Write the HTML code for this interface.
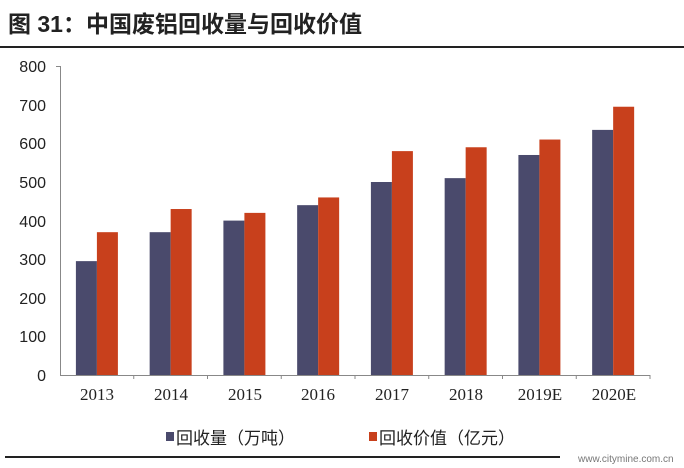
<!DOCTYPE html>
<html><head><meta charset="utf-8"><style>
body{margin:0;background:#fff;width:684px;height:468px;overflow:hidden;font-family:"Liberation Sans","Noto Sans CJK SC",sans-serif;}
</style></head><body>
<svg width="684" height="468" xmlns="http://www.w3.org/2000/svg" style="position:absolute;left:0;top:0">
<text x="8" y="32" font-size="23" font-weight="bold" fill="#222" font-family="Liberation Sans,Noto Sans CJK SC,sans-serif">图 31：中国废铝回收量与回收价值</text>
<line x1="0" y1="47" x2="684" y2="47" stroke="#222" stroke-width="2"/>
<g font-size="16" fill="#222" text-anchor="end" font-family="Liberation Sans,sans-serif">
<text x="46" y="72">800</text><text x="46" y="111">700</text><text x="46" y="149">600</text><text x="46" y="188">500</text><text x="46" y="227">400</text><text x="46" y="265">300</text><text x="46" y="304">200</text><text x="46" y="342">100</text><text x="46" y="381">0</text>
</g>
<g stroke="#888" stroke-width="1">
<line x1="60.5" y1="66" x2="60.5" y2="375"/>
<line x1="60" y1="375.5" x2="650" y2="375.5"/>
<line x1="56" y1="66.5" x2="60" y2="66.5"/>
</g>
<g id="bars"></g>
<g font-size="17" fill="#222" text-anchor="middle" font-family="Liberation Serif,serif">
<text x="97" y="400">2013</text><text x="171" y="400">2014</text><text x="245" y="400">2015</text><text x="318" y="400">2016</text><text x="392" y="400">2017</text><text x="466" y="400">2018</text><text x="540" y="400">2019E</text><text x="614" y="400">2020E</text>
</g>
<rect x="166" y="432" width="8" height="9" fill="#4a4a6c"/>
<text x="176" y="444" font-size="17" fill="#222">回收量（万吨）</text>
<rect x="369" y="432" width="8" height="9" fill="#c8401c"/>
<text x="379" y="444" font-size="17" fill="#222">回收价值（亿元）</text>
<line x1="5" y1="457" x2="560" y2="457" stroke="#222" stroke-width="2"/>
<text x="578" y="462" font-size="10" fill="#777">www.citymine.com.cn</text>
</svg>
<script>
var a=[295,370,400,440,500,510,570,635],b=[370,430,420,460,580,590,610,695];
var g=document.getElementById('bars'),s='';
for(var i=0;i<8;i++){var c=60+73.75*i+36.9;
var h1=a[i]*0.386,h2=b[i]*0.386;
s+='<rect x="'+(c-21)+'" y="'+(375-h1)+'" width="21" height="'+h1+'" fill="#4a4a6c"/>';
s+='<rect x="'+c+'" y="'+(375-h2)+'" width="21" height="'+h2+'" fill="#c8401c"/>';
s+='<line x1="'+(60+73.75*(i+1))+'" y1="375" x2="'+(60+73.75*(i+1))+'" y2="379" stroke="#888"/>';}
g.innerHTML=s;
</script>
</body></html>
